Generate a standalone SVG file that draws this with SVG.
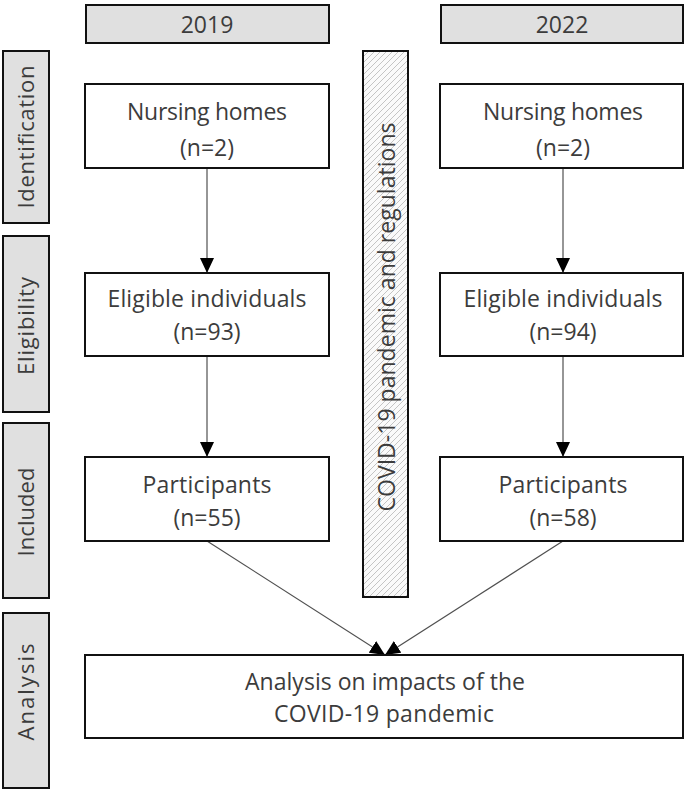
<svg xmlns="http://www.w3.org/2000/svg" width="685" height="801" viewBox="0 0 685 801">
<defs>
<style>
.box{fill:#fff;stroke:#111;stroke-width:2}
.lab{fill:#e0e0e0;stroke:#111;stroke-width:2}
.t{font-family:"Open Sans","Noto Sans",sans-serif;font-size:23px;fill:#3c3c3c;text-anchor:middle}
.s{font-family:"Open Sans","Noto Sans",sans-serif;font-size:22px;fill:#3c3c3c;text-anchor:middle}
.c{stroke:#505050;stroke-width:1.2;fill:none;marker-end:url(#ah)}
</style>
<marker id="ah" markerUnits="userSpaceOnUse" markerWidth="15" markerHeight="14" refX="15" refY="7" orient="auto">
<path d="M0,0 L15,7 L0,14 z" fill="#000"/>
</marker>
<pattern id="hatch" patternUnits="userSpaceOnUse" width="6" height="6">
<rect width="6" height="6" fill="#fafafa"/>
<path d="M-1,1 L1,-1 M0,6 L6,0 M5,7 L7,5" stroke="#c4c4c4" stroke-width="1"/>
</pattern>
</defs>
<rect width="685" height="801" fill="#fff"/>

<g id="connectors">
<line class="c" x1="207" y1="168" x2="207" y2="273"/>
<line class="c" x1="207" y1="356" x2="207" y2="457"/>
<line class="c" x1="563" y1="168" x2="563" y2="273"/>
<line class="c" x1="563" y1="356" x2="563" y2="457"/>
<line class="c" x1="207" y1="541" x2="385" y2="655"/>
<line class="c" x1="563" y1="541" x2="385" y2="655"/>
</g>

<g id="year2019"><rect class="lab" x="86" y="5" width="243" height="38"/><text class="t" x="207" y="33">2019</text></g>
<g id="year2022"><rect class="lab" x="441" y="5" width="242" height="38"/><text class="t" x="562" y="33">2022</text></g>

<g id="stage-identification"><rect class="lab" x="3" y="51" width="46" height="172"/><text class="s" transform="translate(34,137) rotate(-90)" textLength="143">Identification</text></g>
<g id="stage-eligibility"><rect class="lab" x="3" y="236" width="46" height="176"/><text class="s" transform="translate(34,326) rotate(-90)" textLength="98">Eligibility</text></g>
<g id="stage-included"><rect class="lab" x="3" y="423" width="46" height="175"/><text class="s" transform="translate(34,512) rotate(-90)" textLength="89">Included</text></g>
<g id="stage-analysis"><rect class="lab" x="3" y="613" width="46" height="175"/><text class="s" transform="translate(34,692) rotate(-90)" textLength="97">Analysis</text></g>

<g id="covid-bar"><rect x="363" y="51" width="45" height="546" fill="url(#hatch)" stroke="#111" stroke-width="2"/><text class="t" transform="translate(395,317) rotate(-90)" textLength="389">COVID-19 pandemic and regulations</text></g>

<g id="nursing2019"><rect class="box" x="85" y="84" width="244" height="84"/><text class="t" x="207" y="120" textLength="160">Nursing homes</text><text class="t" x="207" y="156">(n=2)</text></g>
<g id="eligible2019"><rect class="box" x="85" y="273" width="244" height="83"/><text class="t" x="207" y="307" textLength="199">Eligible individuals</text><text class="t" x="207" y="340">(n=93)</text></g>
<g id="participants2019"><rect class="box" x="85" y="457" width="244" height="84"/><text class="t" x="207" y="493" textLength="129">Participants</text><text class="t" x="207" y="526">(n=55)</text></g>

<g id="nursing2022"><rect class="box" x="440" y="84" width="243" height="84"/><text class="t" x="563" y="120" textLength="160">Nursing homes</text><text class="t" x="563" y="156">(n=2)</text></g>
<g id="eligible2022"><rect class="box" x="440" y="273" width="243" height="83"/><text class="t" x="563" y="307" textLength="199">Eligible individuals</text><text class="t" x="563" y="340">(n=94)</text></g>
<g id="participants2022"><rect class="box" x="440" y="457" width="243" height="84"/><text class="t" x="563" y="493" textLength="129">Participants</text><text class="t" x="563" y="526">(n=58)</text></g>

<g id="analysis"><rect class="box" x="85" y="655" width="598" height="83"/><text class="t" x="385" y="690" textLength="280">Analysis on impacts of the</text><text class="t" x="384" y="722" textLength="220">COVID-19 pandemic</text></g>
</svg>
